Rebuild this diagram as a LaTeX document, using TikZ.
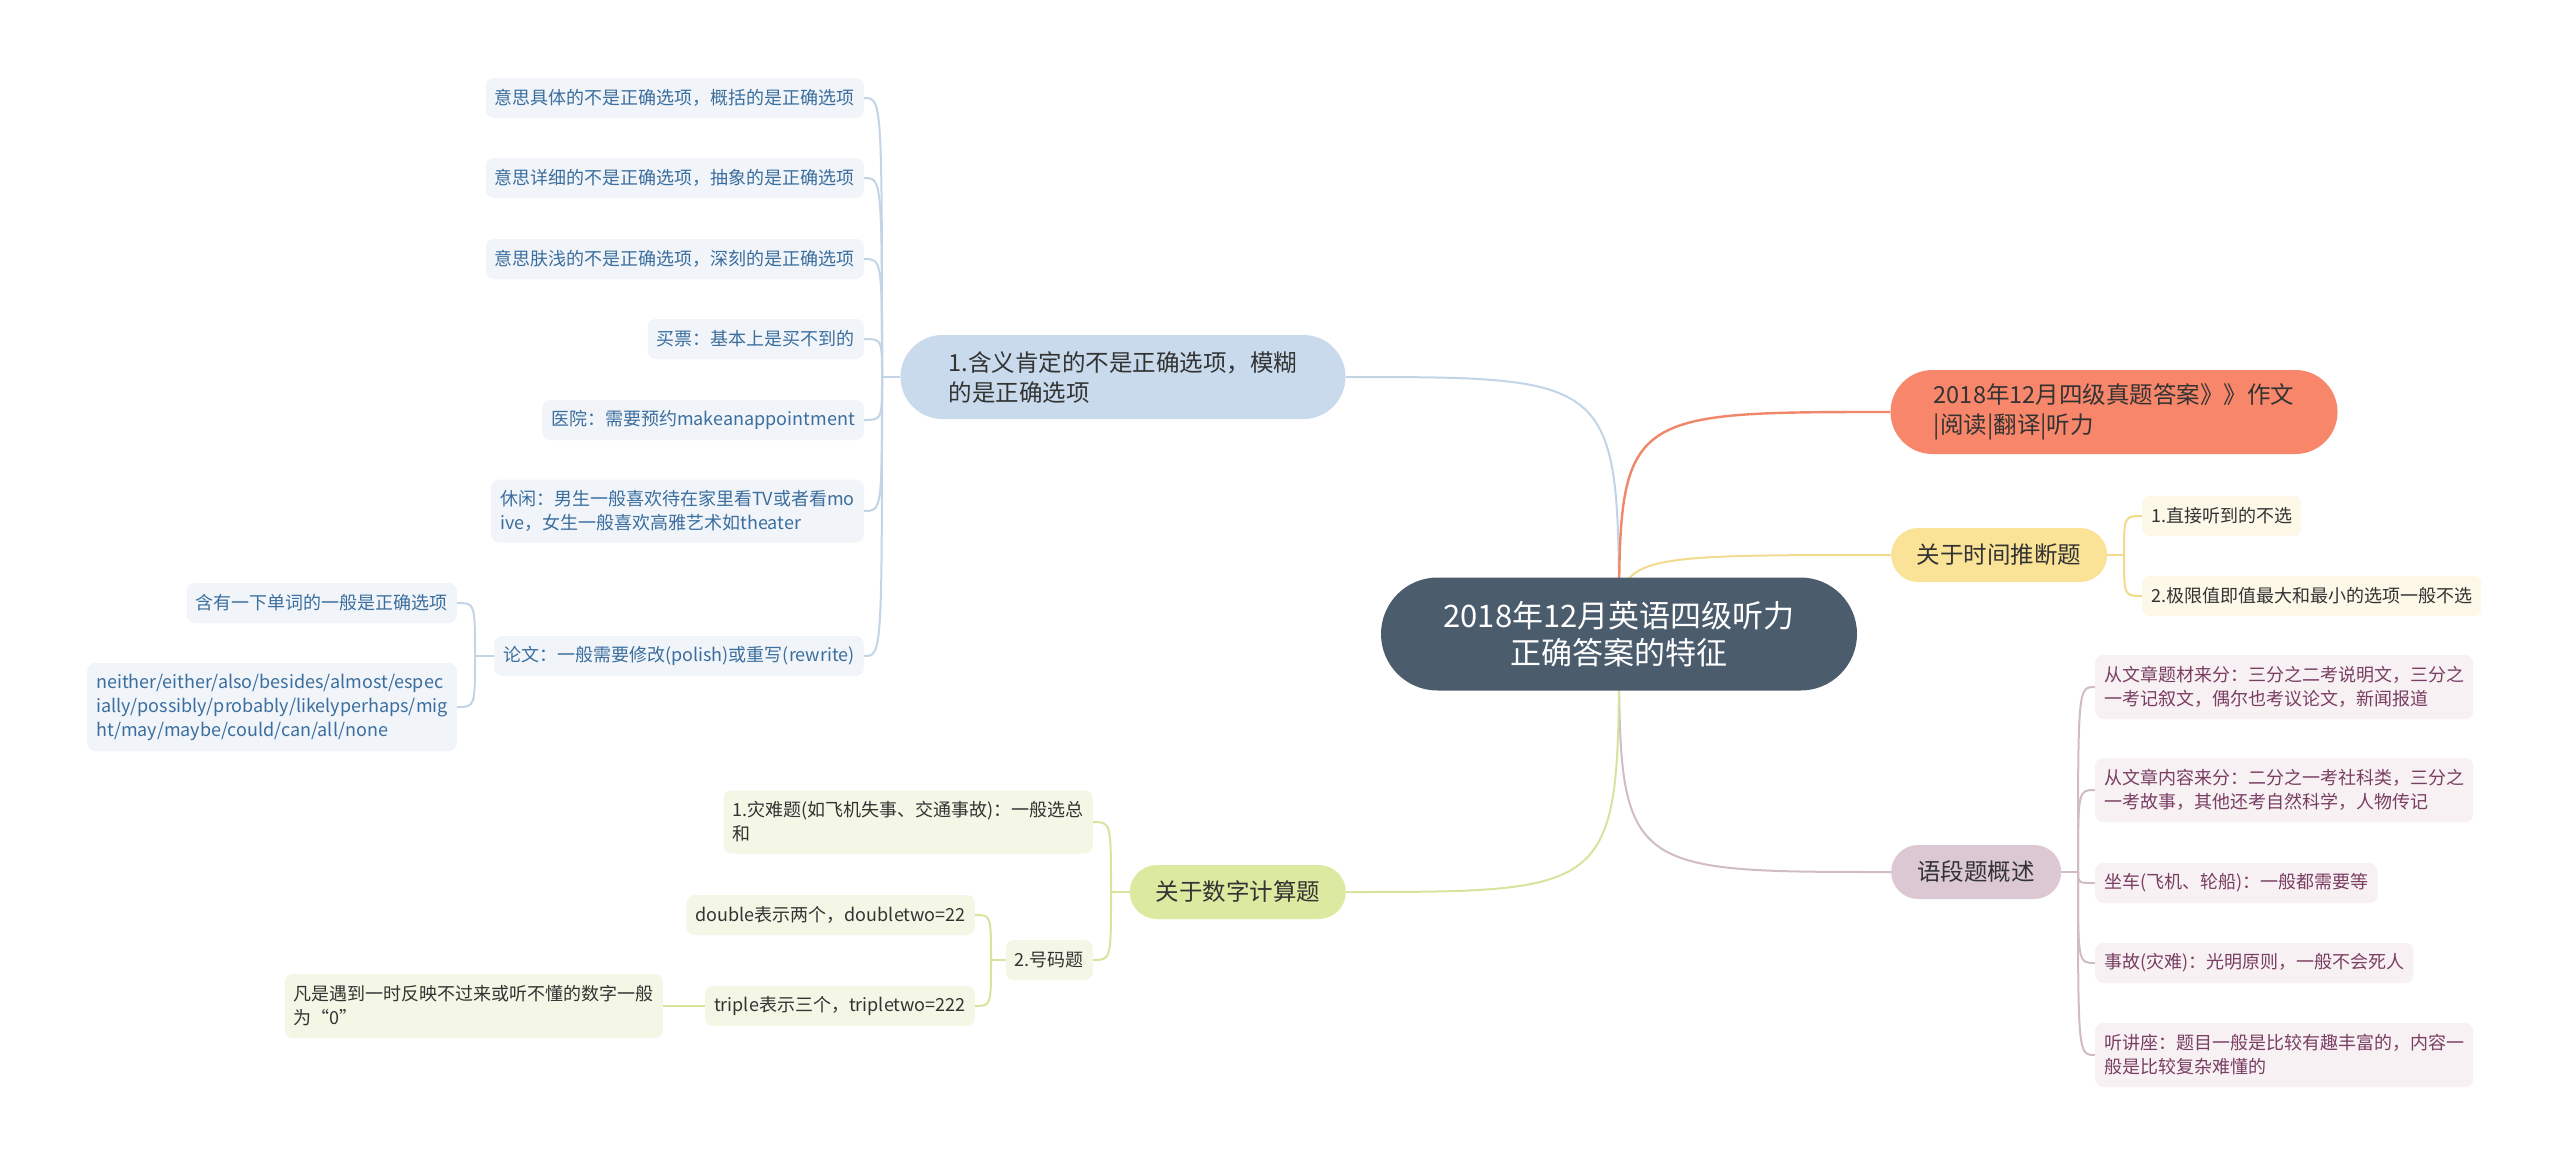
\documentclass[tikz,border=0pt]{standalone}
\usepackage{fontspec}
\setmainfont{Noto Sans CJK SC}
\usetikzlibrary{shapes.misc,backgrounds}

\definecolor{rootfill}{HTML}{4B5C6D}
\definecolor{textdark}{HTML}{333333}
\definecolor{bluefill}{HTML}{C8DAEB}
\definecolor{bluelight}{HTML}{F1F5F9}
\definecolor{bluetext}{HTML}{3B6E9E}
\definecolor{blueline}{HTML}{C2D4E6}
\definecolor{coralfill}{HTML}{F8866A}
\definecolor{coralline}{HTML}{F0866A}
\definecolor{yellowfill}{HTML}{FAE296}
\definecolor{yellowlight}{HTML}{FDF8E8}
\definecolor{yellowline}{HTML}{F4DA8E}
\definecolor{mauvefill}{HTML}{DCC8D2}
\definecolor{mauvelight}{HTML}{F7F1F3}
\definecolor{mauvetext}{HTML}{7A3E63}
\definecolor{mauveline}{HTML}{D0BCC7}
\definecolor{greenfill}{HTML}{DCE9A0}
\definecolor{greenlight}{HTML}{F4F7E6}
\definecolor{greenline}{HTML}{D6E49E}

\begin{document}
\begin{tikzpicture}[
        x = 1pt, y = -1pt,
        line join=round,
        rootstyle/.style = {rounded rectangle, fill=rootfill, text=white, font=\fontsize{31}{37}\selectfont, align=center, minimum width=476pt, minimum height=113pt, inner sep=0pt},
        branchstyle/.style = {rounded rectangle, text=textdark, font=\fontsize{23.5}{30}\selectfont, align=left, minimum height=54pt, inner sep=0pt},
        leafstyle/.style = {rounded corners=8pt, font=\fontsize{18}{24}\selectfont, align=left, minimum height=40pt, inner xsep=9pt, inner ysep=0pt},
        blueleaf/.style = {leafstyle, fill=bluelight, text=bluetext},
        yellowleaf/.style = {leafstyle, fill=yellowlight, text=textdark},
        mauveleaf/.style = {leafstyle, fill=mauvelight, text=mauvetext},
        greenleaf/.style = {leafstyle, fill=greenlight, text=textdark},
        bluelink/.style = {line width=2pt, blueline},
        corallink/.style = {line width=2.4pt, coralline},
        yellowlink/.style = {line width=2pt, yellowline},
        mauvelink/.style = {line width=2pt, mauveline},
        greenlink/.style = {line width=2pt, greenline}
    ]
        \useasboundingbox (0, 0) rectangle (2560, 1165);

        \node[rootstyle] (root) at (1619, 634) {2018年12月英语四级听力\\正确答案的特征};

        \node[branchstyle, fill=bluefill, minimum width=445pt, minimum height=84pt] (b1) at (1123, 377) {1.含义肯定的不是正确选项，模糊\\的是正确选项};
        \node[branchstyle, fill=coralfill, minimum width=447pt, minimum height=84pt] (b2) at (2114, 412) {2018年12月四级真题答案》》作文\\|阅读|翻译|听力};
        \node[branchstyle, fill=yellowfill, minimum width=216pt, anchor=west] (b3) at (1891, 555) {关于时间推断题};
        \node[branchstyle, fill=mauvefill, minimum width=170pt, anchor=west] (b4) at (1891, 872) {语段题概述};
        \node[branchstyle, fill=greenfill, minimum width=216pt, anchor=east] (b5) at (1346, 892) {关于数字计算题};

        \node[blueleaf, anchor=east] (l1) at (864, 98) {意思具体的不是正确选项，概括的是正确选项};
        \node[blueleaf, anchor=east] (l2) at (864, 178) {意思详细的不是正确选项，抽象的是正确选项};
        \node[blueleaf, anchor=east] (l3) at (864, 259) {意思肤浅的不是正确选项，深刻的是正确选项};
        \node[blueleaf, anchor=east] (l4) at (864, 339) {买票：基本上是买不到的};
        \node[blueleaf, anchor=east] (l5) at (864, 420) {医院：需要预约makeanappointment};
        \node[blueleaf, anchor=east, minimum height=63pt] (l6) at (864, 511) {休闲：男生一般喜欢待在家里看TV或者看mo\\ive，女生一般喜欢高雅艺术如theater};
        \node[blueleaf, anchor=east] (l7) at (864, 656) {论文：一般需要修改(polish)或重写(rewrite)};
        \node[blueleaf, anchor=east] (l7a) at (457, 603) {含有一下单词的一般是正确选项};
        \node[blueleaf, anchor=east, minimum height=88pt] (l7b) at (457, 707) {neither/either/also/besides/almost/espec\\ially/possibly/probably/likelyperhaps/mig\\ht/may/maybe/could/can/all/none};

        \node[yellowleaf, anchor=west] (t1) at (2142, 516) {1.直接听到的不选};
        \node[yellowleaf, anchor=west] (t2) at (2142, 596) {2.极限值即值最大和最小的选项一般不选};

        \node[mauveleaf, anchor=west, minimum height=64pt] (s1) at (2095, 687) {从文章题材来分：三分之二考说明文，三分之\\一考记叙文，偶尔也考议论文，新闻报道};
        \node[mauveleaf, anchor=west, minimum height=64pt] (s2) at (2095, 790) {从文章内容来分：二分之一考社科类，三分之\\一考故事，其他还考自然科学，人物传记};
        \node[mauveleaf, anchor=west] (s3) at (2095, 883) {坐车(飞机、轮船)：一般都需要等};
        \node[mauveleaf, anchor=west] (s4) at (2095, 963) {事故(灾难)：光明原则，一般不会死人};
        \node[mauveleaf, anchor=west, minimum height=64pt] (s5) at (2095, 1055) {听讲座：题目一般是比较有趣丰富的，内容一\\般是比较复杂难懂的};

        \node[greenleaf, anchor=east, minimum height=63pt] (n1) at (1093, 822) {1.灾难题(如飞机失事、交通事故)：一般选总\\和};
        \node[greenleaf, anchor=east] (n2) at (1093, 960) {2.号码题};
        \node[greenleaf, anchor=east] (n2a) at (975, 915) {double表示两个，doubletwo=22};
        \node[greenleaf, anchor=east] (n2b) at (975, 1006) {triple表示三个，tripletwo=222};
        \node[greenleaf, anchor=east, minimum height=64pt] (n2b1) at (663, 1006) {凡是遇到一时反映不过来或听不懂的数字一般\\为“0”};

        \coordinate (b1hub) at (882, 377);
        \coordinate (l7hub) at (475, 656);
        \coordinate (b3hub) at (2124, 555);
        \coordinate (b4hub) at (2078, 872);
        \coordinate (b5hub) at (1111, 892);
        \coordinate (n2hub) at (991, 960);

        \begin{scope}[on background layer]
        \fill[white] (0, 0) rectangle (2560, 1165);

        \draw[bluelink] (root.center) .. controls (root.center |- b1.east) .. (b1.east);
        \draw[corallink] (root.center) .. controls (root.center |- b2.west) .. (b2.west);
        \draw[yellowlink] (root.center) .. controls (root.center |- b3.west) .. (b3.west);
        \draw[mauvelink] (root.center) .. controls (root.center |- b4.west) .. (b4.west);
        \draw[greenlink] (root.center) .. controls (root.center |- b5.east) .. (b5.east);

        \draw[bluelink] (b1.west) -- (b1hub);
        \draw[bluelink] (b1hub) .. controls (b1hub |- l1.east) .. (l1.east);
        \draw[bluelink] (b1hub) .. controls (b1hub |- l2.east) .. (l2.east);
        \draw[bluelink] (b1hub) .. controls (b1hub |- l3.east) .. (l3.east);
        \draw[bluelink] (b1hub) .. controls (b1hub |- l4.east) .. (l4.east);
        \draw[bluelink] (b1hub) .. controls (b1hub |- l5.east) .. (l5.east);
        \draw[bluelink] (b1hub) .. controls (b1hub |- l6.east) .. (l6.east);
        \draw[bluelink] (b1hub) .. controls (b1hub |- l7.east) .. (l7.east);

        \draw[bluelink] (l7.west) -- (l7hub);
        \draw[bluelink] (l7hub) .. controls (l7hub |- l7a.east) .. (l7a.east);
        \draw[bluelink] (l7hub) .. controls (l7hub |- l7b.east) .. (l7b.east);

        \draw[yellowlink] (b3.east) -- (b3hub);
        \draw[yellowlink] (b3hub) .. controls (b3hub |- t1.west) .. (t1.west);
        \draw[yellowlink] (b3hub) .. controls (b3hub |- t2.west) .. (t2.west);

        \draw[mauvelink] (b4.east) -- (b4hub);
        \draw[mauvelink] (b4hub) .. controls (b4hub |- s1.west) .. (s1.west);
        \draw[mauvelink] (b4hub) .. controls (b4hub |- s2.west) .. (s2.west);
        \draw[mauvelink] (b4hub) .. controls (b4hub |- s3.west) .. (s3.west);
        \draw[mauvelink] (b4hub) .. controls (b4hub |- s4.west) .. (s4.west);
        \draw[mauvelink] (b4hub) .. controls (b4hub |- s5.west) .. (s5.west);

        \draw[greenlink] (b5.west) -- (b5hub);
        \draw[greenlink] (b5hub) .. controls (b5hub |- n1.east) .. (n1.east);
        \draw[greenlink] (b5hub) .. controls (b5hub |- n2.east) .. (n2.east);

        \draw[greenlink] (n2.west) -- (n2hub);
        \draw[greenlink] (n2hub) .. controls (n2hub |- n2a.east) .. (n2a.east);
        \draw[greenlink] (n2hub) .. controls (n2hub |- n2b.east) .. (n2b.east);
        \draw[greenlink] (n2b.west) -- (n2b1.east);
        \end{scope}

    \end{tikzpicture}
\end{document}
